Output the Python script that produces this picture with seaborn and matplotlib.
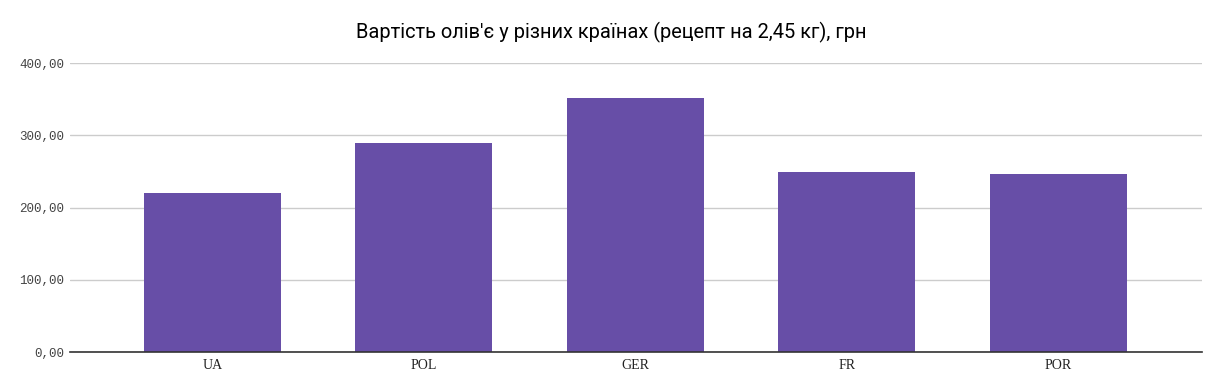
import pandas as pd
import seaborn as sns
import matplotlib
matplotlib.use("Agg")
import matplotlib.pyplot as plt

# Values
countries = ["UA", "POL", "GER", "FR", "POR"]
prices = [220, 289, 352, 249, 246]
y_ticks = [0, 100, 200, 300, 400]

df = pd.DataFrame({"Country": countries, "Price": prices})

sns.set_style("white")
fig = plt.figure(figsize=(12.22, 3.92), dpi=100)
ax = fig.add_axes([0.0573, 0.102, 0.9263, 0.737])

sns.barplot(data=df, x="Country", y="Price", color="#674ea7", width=0.648,
            saturation=1, ax=ax, zorder=2, linewidth=0)

ax.set_xlim(-0.674, 4.68)
ax.set_ylim(0, 400)
ax.set_yticks(y_ticks)
ax.set_yticklabels([f"{v:.2f}".replace(".", ",") for v in y_ticks],
                   family="Liberation Mono", fontsize=9, color="#444444")
ax.set_xticks(range(len(countries)))
ax.set_xticklabels(countries, family="Liberation Serif", fontsize=10,
                   color="#222222")
ax.set_xlabel("")
ax.set_ylabel("")
ax.grid(axis="y", color="#cccccc", linewidth=1, zorder=0)
ax.tick_params(axis="y", length=0, pad=4)
ax.tick_params(axis="x", length=0, pad=5)
for s in ["top", "right", "left"]:
    ax.spines[s].set_visible(False)
ax.spines["bottom"].set_color("#333333")
ax.spines["bottom"].set_linewidth(1.2)
ax.spines["bottom"].set_zorder(3)

fig.text(0.5, 0.918, "Вартість олів'є у різних країнах (рецепт на 2,45 кг), грн",
         ha="center", va="center", family="Roboto", fontsize=14.4, color="#000000")

fig.savefig("out.png", dpi=100, facecolor="white")
